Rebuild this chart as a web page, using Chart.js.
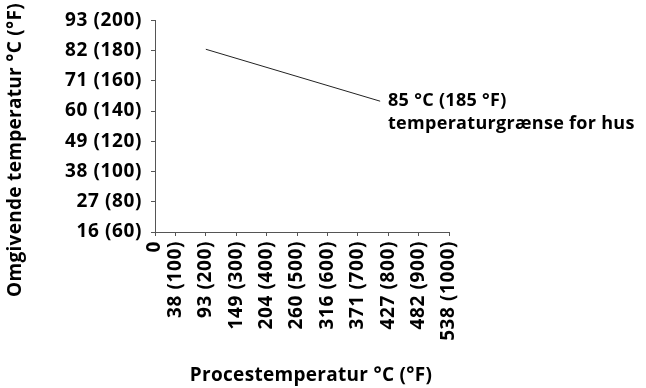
<!DOCTYPE html>
<html>
<head>
<meta charset="utf-8">
<script src="https://cdn.jsdelivr.net/npm/chart.js@4"></script>
<style>
  html, body { margin: 0; padding: 0; background: #fff; }
  #wrap { width: 646px; height: 388px; position: relative; }
</style>
</head>
<body>
<div id="wrap"><canvas id="chart" width="646" height="388"></canvas></div>
<script>
// x ticks: process temperature, degrees C with F in brackets
const xTickValues = [0, 38, 93, 149, 204, 260, 316, 371, 427, 482, 538];
const xTickLabels = ['0', '38 (100)', '93 (200)', '149 (300)', '204 (400)', '260 (500)',
  '316 (600)', '371 (700)', '427 (800)', '482 (900)', '538 (1000)'];

// y ticks: ambient temperature
const yTickValues = [16, 27, 38, 49, 60, 71, 82, 93];
const yTickLabels = ['16 (60)', '27 (80)', '38 (100)', '49 (120)', '60 (140)', '71 (160)', '82 (180)', '93 (200)'];

// leader line to the housing limit note
const leaderX = [93, 412];
const leaderY = [82.5, 63.6];

const noteLines = ['85 °C (185 °F)', 'temperaturgrænse for hus'];
const xTitle = 'Procestemperatur °C (°F)';
const yTitle = 'Omgivende temperatur °C (°F)';

const FONT = "'Open Sans', 'DejaVu Sans', sans-serif";

const spacingPlugin = {
  id: 'spacing',
  beforeDraw(chart) { chart.ctx.letterSpacing = '0.6px'; },
};

const textPlugin = {
  id: 'texts',
  afterDraw(chart) {
    const ctx = chart.ctx;
    ctx.save();
    ctx.letterSpacing = '0.3px';
    ctx.fillStyle = '#000';
    ctx.font = 'bold 18px ' + FONT;
    ctx.textBaseline = 'middle';
    ctx.textAlign = 'left';
    ctx.fillText(noteLines[0], 388, 101);
    ctx.fillText(noteLines[1], 388, 124);

    ctx.font = 'bold 19px ' + FONT;
    ctx.textAlign = 'center';
    ctx.fillText(xTitle, 311, 376);

    ctx.translate(16, 150);
    ctx.rotate(-Math.PI / 2);
    ctx.fillText(yTitle, 0, 0);
    ctx.restore();
  }
};

new Chart(document.getElementById('chart'), {
  type: 'line',
  data: {
    datasets: [{
      data: leaderX.map((x, i) => ({ x, y: leaderY[i] })),
      borderColor: '#222',
      borderWidth: 1,
      pointRadius: 0,
      fill: false,
    }],
  },
  options: {
    responsive: false,
    animation: false,
    layout: { padding: { left: 0, top: 20, right: 197, bottom: 0 } },
    plugins: { legend: { display: false }, tooltip: { enabled: false } },
    scales: {
      x: {
        type: 'linear',
        min: 0,
        max: 538,
        afterBuildTicks: s => { s.ticks = xTickValues.map(v => ({ value: v })); },
        afterFit: s => { s.height = 388 - 232; },
        grid: { drawOnChartArea: false, tickLength: 4, color: '#555' },
        border: { color: '#555', width: 1 },
        ticks: {
          autoSkip: false,
          maxRotation: 90,
          minRotation: 90,
          padding: 5,
          color: '#000',
          font: { size: 19, weight: 'bold', family: FONT },
          callback: (v) => {
            const i = xTickValues.indexOf(v);
            return i >= 0 ? xTickLabels[i] : '';
          },
        },
      },
      y: {
        type: 'linear',
        min: 16,
        max: 93,
        afterBuildTicks: s => { s.ticks = yTickValues.map(v => ({ value: v })); },
        afterFit: s => { s.width = 155; },
        grid: { drawOnChartArea: false, tickLength: 4, color: '#555' },
        border: { color: '#555', width: 1 },
        ticks: {
          padding: 9,
          color: '#000',
          font: { size: 19, weight: 'bold', family: FONT },
          callback: (v) => {
            const i = yTickValues.indexOf(v);
            return i >= 0 ? yTickLabels[i] : '';
          },
        },
      },
    },
  },
  plugins: [spacingPlugin, textPlugin],
});
</script>
</body>
</html>
